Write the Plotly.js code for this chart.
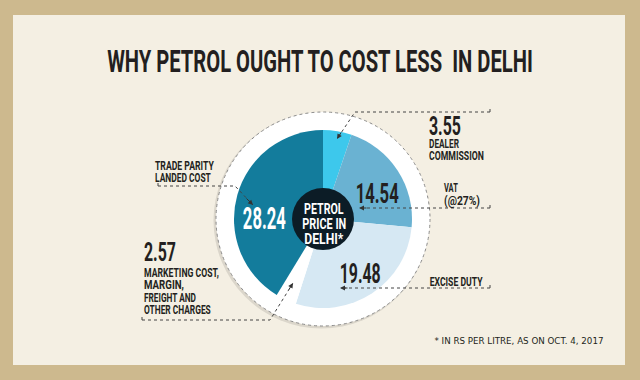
<!DOCTYPE html>
<html><head><meta charset="utf-8">
<script src="https://cdn.plot.ly/plotly-3.0.1.min.js"></script>
<style>html,body{margin:0;padding:0;background:#cdb98e}#chart{width:640px;height:380px}</style>
</head><body><div id="chart"></div>
<script>
// ---- data ----
const categories = ["Dealer commission", "VAT (@27%)", "Excise duty", "Marketing cost, margin, freight and other charges", "Trade parity landed cost"];
const values = [3.55, 14.54, 19.48, 2.57, 28.24];
const valueLabels = values.map(v => v.toFixed(2));
const categoryLines = [["DEALER", "COMMISSION"], ["VAT", "(@27%)"], ["EXCISE DUTY"], ["MARKETING COST,", "MARGIN,", "FREIGHT AND", "OTHER CHARGES"], ["TRADE PARITY", "LANDED COST"]];
const titleText = "WHY PETROL OUGHT TO COST LESS\u00a0 IN DELHI";
const centerLines = ["PETROL", "PRICE IN", "DELHI*"];
const footnote = "* IN RS PER LITRE, AS ON OCT. 4, 2017";

// ---- style ----
const sliceColors = ["#3dc8ec", "#6ab2d2", "#d6e8f3", "#ffffff", "#137c9c"];
const COND = "Roboto, 'Liberation Sans', sans-serif";
const DARK = "#231f20";
const W = 640, H = 380;
const px = x => x / W, py = y => 1 - y / H;
const CX = 323, CY = 219, R = 89, RING = 107, HUB = 31;

const annotations = [];
const fitW = [];
function txt(text, x, y, size, w, opt) {
  opt = opt || {};
  annotations.push({
    text: text, xref: 'paper', yref: 'paper', x: px(x), y: py(y),
    xanchor: opt.xanchor || 'left', yanchor: 'middle', showarrow: false, borderpad: 0,
    font: {family: opt.family || COND, size: size, color: opt.color || DARK, weight: opt.weight || 'bold'}
  });
  fitW.push(w);
}
function lines(arr, x, y0, step, size, widths, opt) {
  arr.forEach((t, i) => txt(t, x, y0 + i * step, size, widths[i], opt));
}
function arrow(x, y, ax, ay) {
  annotations.push({text: '', xref: 'paper', yref: 'paper', x: px(x), y: py(y), ax: ax, ay: ay,
    showarrow: true, arrowhead: 2, arrowsize: 1, arrowwidth: 1, arrowcolor: '#333'});
  fitW.push(0);
}
function path(pts) {
  return pts.map(seg => seg.map((p, i) => (i ? 'L' : 'M') + px(p[0]) + ',' + py(p[1])).join(' ')).join(' ');
}

// values
txt(valueLabels[0], 428, 126, 26, 32);
txt(valueLabels[1], 377, 193, 28, 43, {xanchor: 'center'});
txt(valueLabels[2], 360, 273, 28, 41, {xanchor: 'center'});
txt(valueLabels[3], 143, 252, 26, 32);
txt(valueLabels[4], 264, 218, 32, 43, {xanchor: 'center', color: '#ffffff'});
// category labels
lines(categoryLines[0], 428, 143.5, 12, 12.5, [30, 55]);
lines(categoryLines[1], 443, 187.5, 13, 12.5, [14, 36]);
lines(categoryLines[2], 484, 281, 12, 12.5, [53], {xanchor: 'right'});
lines(categoryLines[3], 143, 272.5, 12.3, 12.5, [75, 40, 52, 67]);
lines(categoryLines[4], 154, 165.5, 11.5, 12.5, [59, 56]);
// centre
lines(centerLines, CX + 1, 208.5, 15, 15.5, [40, 44, 39], {xanchor: 'center', color: '#ffffff'});
// footnote
txt(footnote, 604, 340.5, 9.5, 169, {xanchor: 'right', family: "'DejaVu Sans', sans-serif", weight: 'normal'});
// arrowheads
arrow(253, 205, -8, -8);
arrow(293, 283, -5, 8);
arrow(337, 139, 5, -8);
arrow(359, 208, 9, 0);
arrow(340, 288, 9, 0);

const leader = {type: 'path', xref: 'paper', yref: 'paper', line: {color: '#444', width: 1, dash: 'dot'}, layer: 'above'};
const shapes = [
  {type: 'rect', xref: 'paper', yref: 'paper', x0: px(13), x1: px(625), y0: py(365), y1: py(15), fillcolor: '#f4efe3', line: {width: 0}, layer: 'below'},
  {type: 'circle', xref: 'paper', yref: 'paper', x0: px(CX - RING - 2.5), x1: px(CX + RING - 0.5), y0: py(CY + RING + 2.5), y1: py(CY - RING + 0.5), fillcolor: 'rgba(0,0,0,0.10)', line: {width: 0}, layer: 'below'},
  {type: 'circle', xref: 'paper', yref: 'paper', x0: px(CX - RING), x1: px(CX + RING), y0: py(CY + RING), y1: py(CY - RING), fillcolor: '#ffffff', line: {color: '#8a8a8a', width: 1, dash: 'dot'}, layer: 'below'},
  {type: 'circle', xref: 'paper', yref: 'paper', x0: px(CX - HUB), x1: px(CX + HUB), y0: py(CY + HUB), y1: py(CY - HUB), fillcolor: '#0c1c26', line: {width: 0}, layer: 'above'},
  Object.assign({path: path([[[158, 183], [158, 189]], [[158, 186], [235, 186], [253, 205]]])}, leader),
  Object.assign({path: path([[[142, 317], [142, 323]], [[142, 320], [270, 320], [293, 283]]])}, leader),
  Object.assign({path: path([[[490, 109], [490, 115]], [[490, 112], [355, 112], [337, 139]]])}, leader),
  Object.assign({path: path([[[490, 205], [490, 211]], [[490, 208], [359, 208]]])}, leader),
  Object.assign({path: path([[[490, 285], [490, 291]], [[490, 288], [340, 288]]])}, leader)
];

const data = [{
  type: 'pie', values: values, labels: categories, sort: false, direction: 'clockwise', rotation: 0,
  marker: {colors: sliceColors, line: {width: 0}}, textinfo: 'none', hoverinfo: 'skip', showlegend: false,
  domain: {x: [px(CX - R), px(CX + R)], y: [py(CY + R), py(CY - R)]}
}];

const layout = {
  width: W, height: H, margin: {l: 0, r: 0, t: 0, b: 0},
  paper_bgcolor: '#cdb98e', plot_bgcolor: 'rgba(0,0,0,0)',
  title: {text: titleText, x: 0.5, xanchor: 'center', y: py(61), yanchor: 'middle', font: {family: COND, size: 31, color: DARK, weight: 'bold'}},
  shapes: shapes, annotations: annotations, showlegend: false
};

// squeeze text horizontally to mimic the condensed display typeface
function squeeze(t, w, anchor) {
  const bb = t.getBBox();
  if (!bb.width) return;
  const s = w / bb.width;
  const ax = anchor === 'left' ? bb.x : anchor === 'right' ? bb.x + bb.width : bb.x + bb.width / 2;
  const prev = t.getAttribute('transform') || '';
  t.setAttribute('transform', prev + ' translate(' + ax + ',0) scale(' + s + ',1) translate(' + (-ax) + ',0)');
}
Plotly.newPlot('chart', data, layout, {displayModeBar: false, staticPlot: true}).then(gd => {
  gd.querySelectorAll('g.annotation').forEach(g => {
    const i = +g.getAttribute('data-index');
    if (!fitW[i]) return;
    const t = g.querySelector('text.annotation-text');
    if (t) squeeze(t, fitW[i], annotations[i].xanchor);
  });
  const tt = gd.querySelector('text.gtitle');
  if (tt) squeeze(tt, 426, 'center');
});
</script></body></html>
